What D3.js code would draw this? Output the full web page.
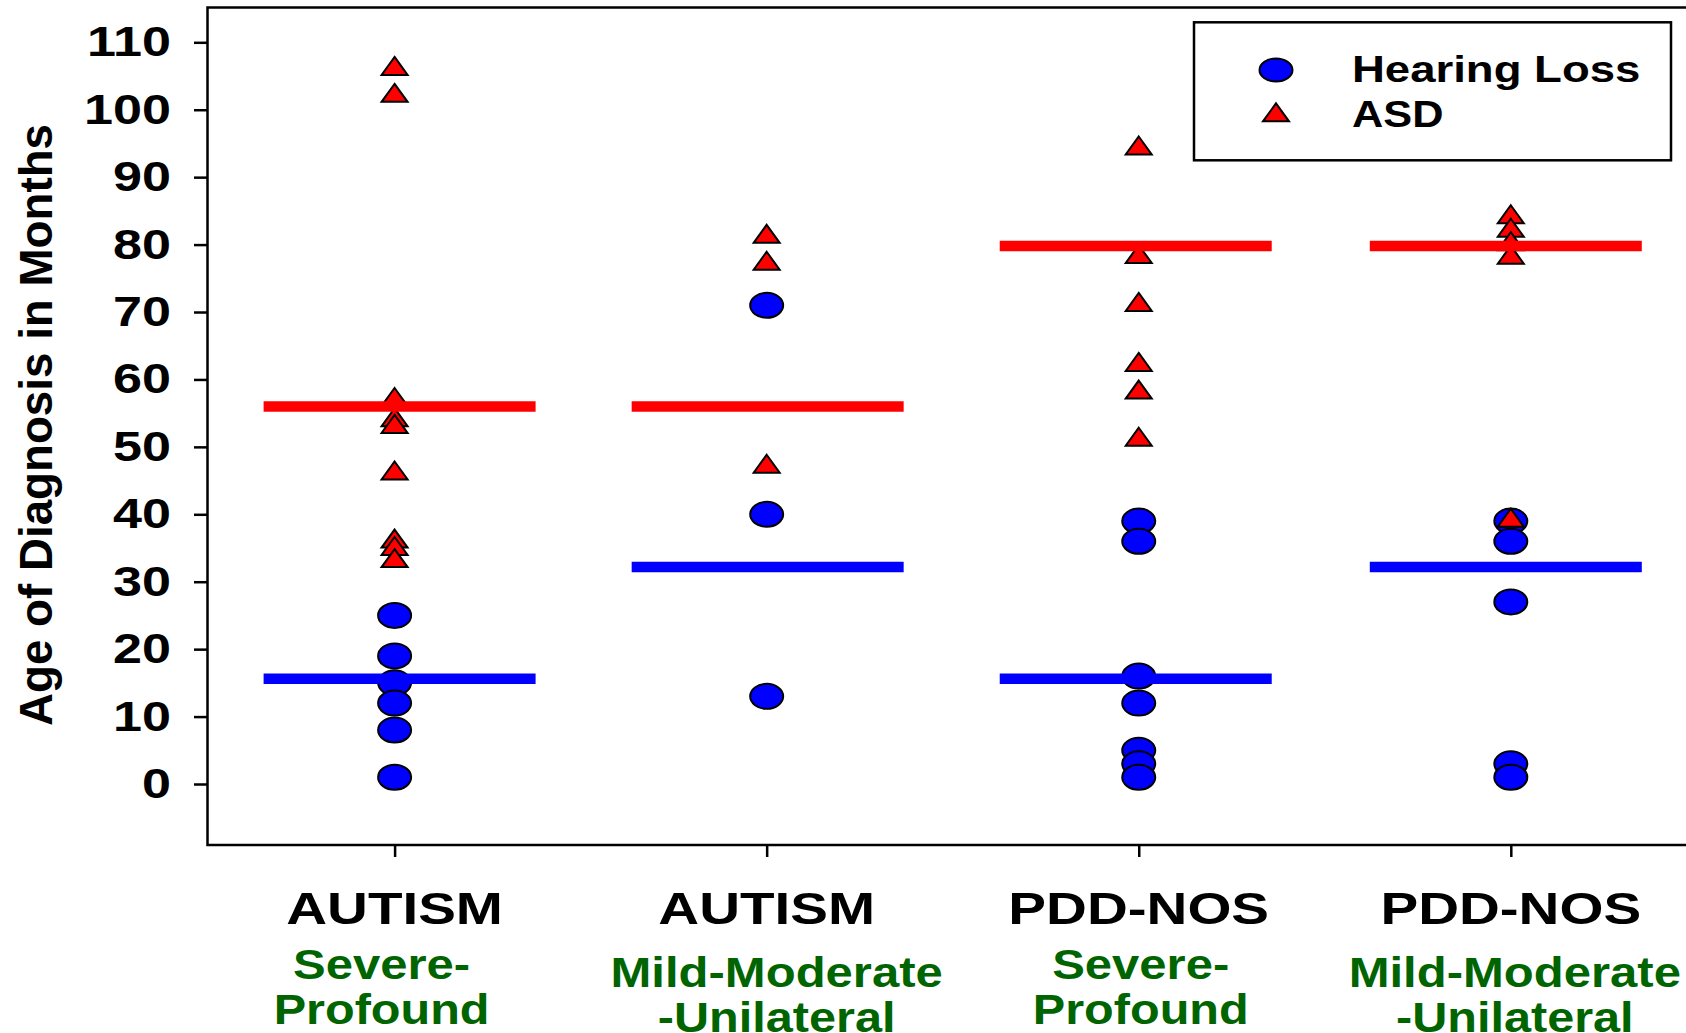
<!DOCTYPE html>
<html lang="en">
<head>
<meta charset="UTF-8">
<title>Age of Diagnosis</title>
<script src="https://d3js.org/d3.v7.min.js"></script>
<style>
    body { margin: 0; background: #fff; }
    text { font-family: "Liberation Sans", Arial, sans-serif; font-weight: bold; }
</style>
</head>
<body>
<svg width="1686" height="1033"></svg>
<script>
    // groups along x
    var groups = ["g1", "g2", "g3", "g4"];
    var diagnosis = ["AUTISM", "AUTISM", "PDD-NOS", "PDD-NOS"];
    var severity1 = ["Severe-", "Mild-Moderate", "Severe-", "Mild-Moderate"];
    var severity2 = ["Profound", "-Unilateral", "Profound", "-Unilateral"];

    // age of diagnosis (months)
    var hearingLoss = [
        [25, 19, 15, 12, 8, 1],
        [71, 40, 13],
        [39, 36, 16, 12, 5, 3, 1],
        [39, 36, 27, 3, 1]
    ];
    var asd = [
        [106.5, 102.5, 57.4, 54.4, 53.4, 46.5, 36.4, 35.3, 33.5],
        [81.6, 77.6, 47.5],
        [94.7, 78.6, 71.5, 62.6, 58.5, 51.5],
        [84.5, 82.5, 80.5, 78.5, 39.5]
    ];
    var hearingMean = [15.6, 32.2, 15.6, 32.2];
    var asdMean = [56, 56, 79.8, 79.8];
    var yTicks = [0, 10, 20, 30, 40, 50, 60, 70, 80, 90, 100, 110];

    var svg = d3.select("svg");
    var frame = {left: 207.5, top: 7.5, bottom: 845, right: 1700};

    var x = d3.scalePoint().domain(groups).range([394.6, 1510.8]);
    var y = d3.scaleLinear().domain([0, 110]).range([784, 42.3]);

    // stretch text horizontally like the original
    function stretch(sel, sx) {
        sel.each(function () {
            var w = this.getComputedTextLength();
            d3.select(this).attr("textLength", w * sx).attr("lengthAdjust", "spacingAndGlyphs");
        });
    }

    function tri(w, h) {
        return "M0," + (-h / 2) + "L" + (w / 2) + "," + (h / 2) + "L" + (-w / 2) + "," + (h / 2) + "Z";
    }

    // frame (no right side)
    svg.append("path")
        .attr("d", "M" + frame.right + "," + frame.top + "H" + frame.left + "V" + frame.bottom + "H" + frame.right)
        .attr("fill", "none").attr("stroke", "#000").attr("stroke-width", 2.5);

    // y axis
    var yAxis = svg.append("g")
        .attr("transform", "translate(" + frame.left + ",0)")
        .call(d3.axisLeft(y).tickValues(yTicks).tickSize(13.5).tickPadding(23));
    yAxis.select(".domain").remove();
    yAxis.selectAll("line").attr("stroke-width", 2.5);
    yAxis.selectAll("text").attr("font-size", 42).attr("fill", "#000")
        .style("font-family", "'Liberation Sans', Arial, sans-serif").style("font-weight", "bold")
        .call(stretch, 1.24);

    // x ticks
    var xAxis = svg.append("g")
        .attr("transform", "translate(0," + frame.bottom + ")")
        .call(d3.axisBottom(x).tickSize(12).tickFormat(""));
    xAxis.select(".domain").remove();
    xAxis.selectAll("line").attr("stroke-width", 2.5);

    // category labels
    var subDx = [-13, 10, 2, 4];
    var labels = svg.append("g");
    labels.selectAll(".diag").data(groups).enter().append("text")
        .attr("class", "diag")
        .attr("x", function (d) { return x(d); })
        .attr("y", 923.5)
        .attr("text-anchor", "middle")
        .attr("font-size", 44)
        .text(function (d, i) { return diagnosis[i]; })
        .call(stretch, 1.285);
    labels.selectAll(".sev1").data(groups).enter().append("text")
        .attr("class", "sev1")
        .attr("x", function (d, i) { return x(d) + subDx[i]; })
        .attr("y", function (d, i) { return i % 2 ? 987 : 979; })
        .attr("text-anchor", "middle")
        .attr("font-size", 43)
        .attr("fill", "#006400")
        .text(function (d, i) { return severity1[i]; })
        .call(stretch, 1.14);
    labels.selectAll(".sev2").data(groups).enter().append("text")
        .attr("class", "sev2")
        .attr("x", function (d, i) { return x(d) + subDx[i]; })
        .attr("y", function (d, i) { return i % 2 ? 1032 : 1023.5; })
        .attr("text-anchor", "middle")
        .attr("font-size", 43)
        .attr("fill", "#006400")
        .text(function (d, i) { return severity2[i]; })
        .call(stretch, 1.13);

    // y title
    svg.append("text")
        .attr("transform", "translate(52,425) rotate(-90)")
        .attr("text-anchor", "middle")
        .attr("font-size", 47)
        .attr("textLength", 602)
        .attr("lengthAdjust", "spacingAndGlyphs")
        .text("Age of Diagnosis in Months");

    // points
    var hlPts = [], asdPts = [];
    groups.forEach(function (g, i) {
        hearingLoss[i].forEach(function (v) { hlPts.push({g: g, v: v}); });
        asd[i].forEach(function (v) { asdPts.push({g: g, v: v}); });
    });

    svg.append("g").selectAll("ellipse").data(hlPts).enter().append("ellipse")
        .attr("cx", function (d) { return x(d.g); })
        .attr("cy", function (d) { return y(d.v); })
        .attr("rx", 16.5).attr("ry", 12.5)
        .attr("fill", "#0000ff").attr("stroke", "#000").attr("stroke-width", 2);

    svg.append("g").selectAll("path").data(asdPts).enter().append("path")
        .attr("d", tri(26, 18))
        .attr("transform", function (d) { return "translate(" + x(d.g) + "," + y(d.v) + ")"; })
        .attr("fill", "#ff0000").attr("stroke", "#000").attr("stroke-width", 2)
        .attr("stroke-linejoin", "miter");

    // group mean lines
    var half = 136;
    var lineDx = [5, 1, -3, -5];
    svg.append("g").selectAll("line").data(groups).enter().append("line")
        .attr("x1", function (d, i) { return x(d) + lineDx[i] - half; })
        .attr("x2", function (d, i) { return x(d) + lineDx[i] + half; })
        .attr("y1", function (d, i) { return y(hearingMean[i]); })
        .attr("y2", function (d, i) { return y(hearingMean[i]); })
        .attr("stroke", "#0000ff").attr("stroke-width", 10.5);
    svg.append("g").selectAll("line").data(groups).enter().append("line")
        .attr("x1", function (d, i) { return x(d) + lineDx[i] - half; })
        .attr("x2", function (d, i) { return x(d) + lineDx[i] + half; })
        .attr("y1", function (d, i) { return y(asdMean[i]); })
        .attr("y2", function (d, i) { return y(asdMean[i]); })
        .attr("stroke", "#ff0000").attr("stroke-width", 10.5);

    // legend
    var legend = svg.append("g");
    legend.append("rect")
        .attr("x", 1194).attr("y", 22.3).attr("width", 477).attr("height", 138)
        .attr("fill", "#fff").attr("stroke", "#000").attr("stroke-width", 2.5);
    legend.append("ellipse")
        .attr("cx", 1276).attr("cy", 70).attr("rx", 16.5).attr("ry", 11.5)
        .attr("fill", "#0000ff").attr("stroke", "#000").attr("stroke-width", 2);
    legend.append("path")
        .attr("d", tri(26, 18))
        .attr("transform", "translate(1276,112.3)")
        .attr("fill", "#ff0000").attr("stroke", "#000").attr("stroke-width", 2);
    legend.append("text").attr("x", 1352).attr("y", 81.7).attr("font-size", 37)
        .text("Hearing Loss").call(stretch, 1.23);
    legend.append("text").attr("x", 1352).attr("y", 127).attr("font-size", 37)
        .text("ASD").call(stretch, 1.17);
</script>
</body>
</html>
